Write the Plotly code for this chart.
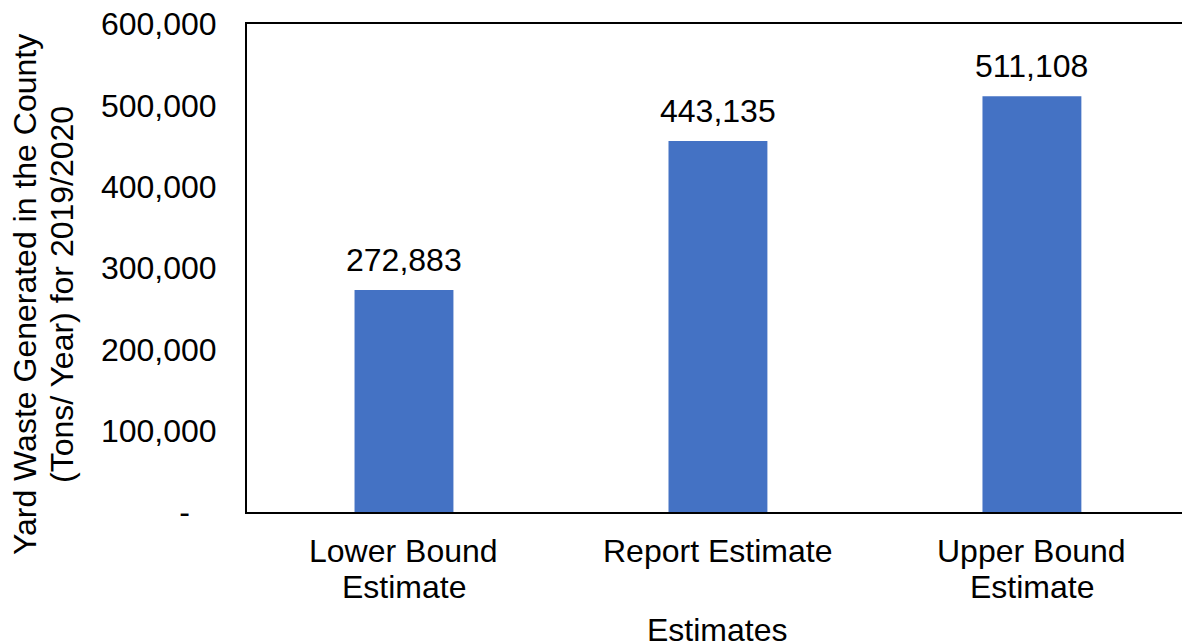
import plotly.graph_objects as go

categories = ["Lower Bound\nEstimate", "Report Estimate", "Upper Bound\nEstimate"]
bar_values = [272883, 456000, 511108]
label_texts = ["272,883", "443,135", "511,108"]
y_tickvals = [0, 100000, 200000, 300000, 400000, 500000, 600000]
y_ticktext = ["-\u00a0\u00a0\u00a0", "100,000", "200,000", "300,000", "400,000", "500,000", "600,000"]
y_title_lines = ["Yard Waste Generated in the County", "(Tons/ Year) for 2019/2020"]
x_title = "Estimates"

FONT = "Liberation Sans, Arial, sans-serif"
TF = dict(size=32, family=FONT, color="black")

fig = go.Figure()
fig.add_trace(go.Bar(
    x=[0, 1, 2], y=bar_values, width=0.315,
    marker=dict(color="#4472C4", line=dict(width=0)),
    hoverinfo="skip",
))

annotations = []
# data labels
for i, (v, t) in enumerate(zip(bar_values, label_texts)):
    annotations.append(dict(x=i, y=v, xref="x", yref="y", text=t, showarrow=False,
                            yanchor="bottom", yshift=10, font=TF))
# category labels (lines placed individually for tighter line spacing)
for i, c in enumerate(categories):
    for j, line in enumerate(c.split("\n")):
        annotations.append(dict(x=i, y=0, xref="x", yref="paper", text=line, showarrow=False,
                                yanchor="middle", yshift=-39 - 36 * j, font=TF))
# x title
annotations.append(dict(x=0.5, y=0, xref="paper", yref="paper", text=x_title, showarrow=False,
                        yanchor="middle", yshift=-118, xshift=2, font=TF))
# y title
for j, line in enumerate(y_title_lines):
    annotations.append(dict(x=0, y=0.5, xref="paper", yref="paper", text=line, showarrow=False,
                            textangle=-90, xanchor="center", yanchor="middle",
                            xshift=-222 + 37 * j, yshift=-27, font=TF))

fig.update_layout(
    width=1182, height=644,
    margin=dict(l=247, r=0, t=24, b=132),
    paper_bgcolor="white", plot_bgcolor="white",
    showlegend=False,
    font=dict(family=FONT, size=32, color="black"),
    annotations=annotations,
)
fig.update_xaxes(
    range=[-0.5, 2.478],
    showticklabels=False,
    showline=True, linecolor="black", linewidth=2, mirror=True,
    showgrid=False, ticks="",
)
fig.update_yaxes(
    range=[0, 600000],
    tickvals=y_tickvals, ticktext=y_ticktext,
    showline=True, linecolor="black", linewidth=2, mirror=False,
    showgrid=False, ticks="", ticklabelstandoff=22, zeroline=False,
    tickfont=TF,
)

fig.write_html("out.html")
